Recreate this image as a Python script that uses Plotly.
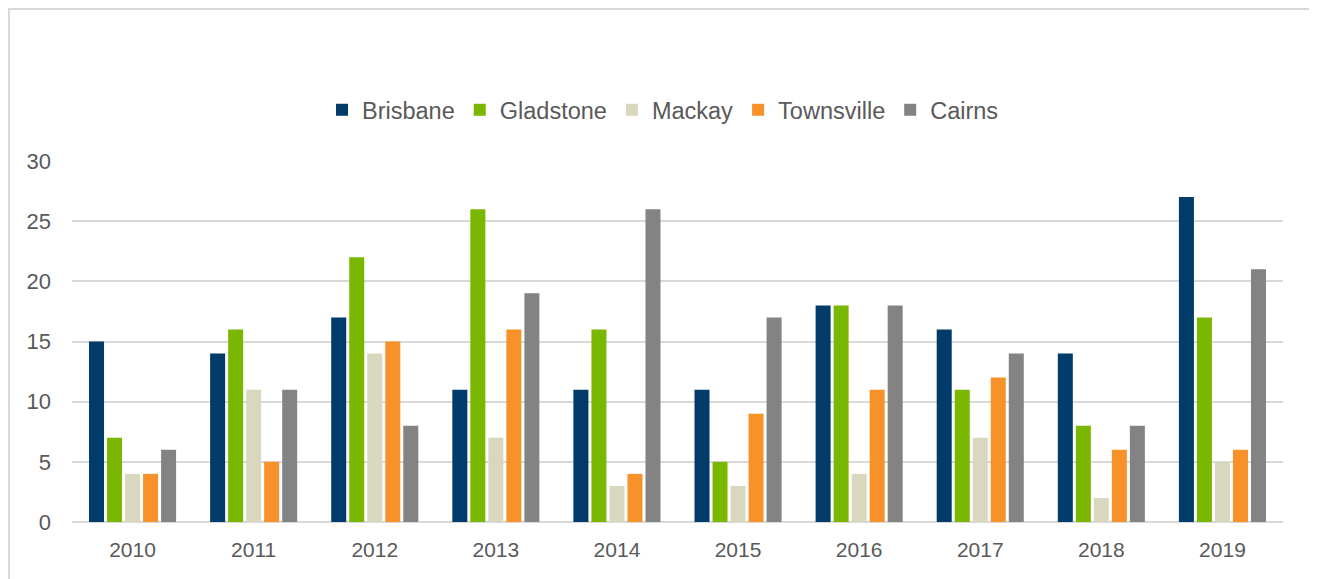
import plotly.graph_objects as go

years = ["2010", "2011", "2012", "2013", "2014", "2015", "2016", "2017", "2018", "2019"]
brisbane = [15, 14, 17, 11, 11, 11, 18, 16, 14, 27]
gladstone = [7, 16, 22, 26, 16, 5, 18, 11, 8, 17]
mackay = [4, 11, 14, 7, 3, 3, 4, 7, 2, 5]
townsville = [4, 5, 15, 16, 4, 9, 11, 12, 6, 6]
cairns = [6, 11, 8, 19, 26, 17, 18, 14, 8, 21]

series = [
    ("Brisbane", brisbane, "#003B69"),
    ("Gladstone", gladstone, "#7AB800"),
    ("Mackay", mackay, "#D9D8BE"),
    ("Townsville", townsville, "#F7922A"),
    ("Cairns", cairns, "#838383"),
]

fig = go.Figure()
for name, vals, color in series:
    fig.add_trace(go.Bar(x=years, y=vals, name=name, marker=dict(color=color, line=dict(width=0))))

# page body has an 8px margin; figure coordinates are offset by 8px
W, H = 1309, 571
L, T = 64, 153
pw, ph = 1211, 361
R = W - L - pw
B = H - T - ph

fig.update_layout(
    width=W, height=H,
    margin=dict(l=L, r=R, t=T, b=B),
    paper_bgcolor="white", plot_bgcolor="white",
    barmode="group", bargap=0.256, bargroupgap=0.167,
    font=dict(family="Liberation Sans, Arial, sans-serif", size=21, color="#595959"),
    legend=dict(orientation="h", x=(655 - L) / pw, xanchor="center",
                y=(T + ph - 102) / ph, yanchor="middle",
                font=dict(size=23.5, color="#595959"), traceorder="normal"),
    xaxis=dict(showgrid=False, ticks="", showline=False, tickfont=dict(size=21), ticklabelstandoff=13),
    yaxis=dict(range=[0, 30], dtick=5, showgrid=True, gridcolor="#D9D9D9", gridwidth=2,
               zeroline=True, zerolinecolor="#D9D9D9", zerolinewidth=2,
               ticks="", tickfont=dict(size=22), ticklabelstandoff=20),
    shapes=[dict(type="rect", xref="paper", yref="paper",
                 x0=(1 - L) / pw, x1=(1303 - L) / pw,
                 y0=(T + ph - 600) / ph, y1=(T + ph - 1) / ph,
                 line=dict(color="#D9D9D9", width=2), fillcolor="rgba(0,0,0,0)", layer="below")],
)

fig.write_html("out.html")
